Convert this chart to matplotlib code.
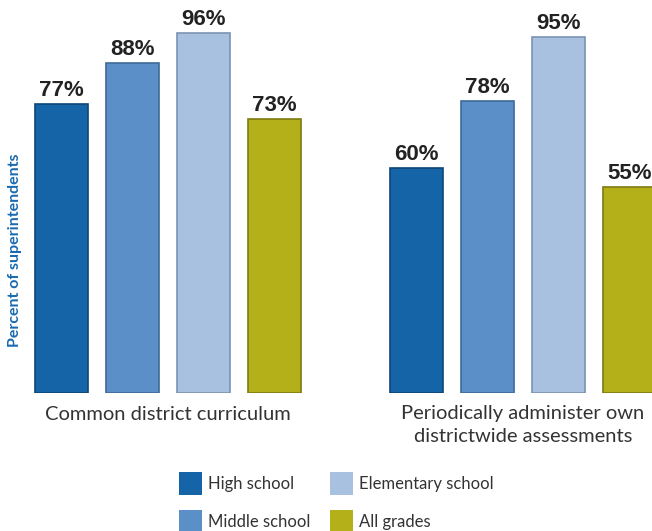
import numpy as np
import matplotlib
matplotlib.use('Agg')
import matplotlib.pyplot as plt
from matplotlib.patches import Rectangle

# data
groups = ['Common district curriculum', 'Periodically administer own\ndistrictwide assessments']
levels = ['High school', 'Middle school', 'Elementary school', 'All grades']
curriculum = [77, 88, 96, 73]
assessments = [60, 78, 95, 55]
colors = ['#1664a8', '#5b8fc7', '#a9c1e1', '#b4b01a']
edges = ['#0d4676', '#3f6a98', '#7d93b3', '#7d7a10']

W, H = 652, 531
fig = plt.figure(figsize=(W / 100, H / 100), dpi=100)

# axes: 0% at row 393, bar pitch 71 px, first bar centre at x=61.5 px
pitch = 71.0
ax = fig.add_axes([0, (H - 393) / H, 1, 393 / H])
ax.set_xlim(-61.5 / pitch, (W - 61.5) / pitch)
ax.set_ylim(0, 393 / 3.75)
ax.axis('off')

for g, vals in enumerate([curriculum, assessments]):
    x = 5 * g + np.arange(len(vals))
    ax.bar(x, vals, width=53 / pitch, color=colors, edgecolor=edges, linewidth=1.2)
    for xi, v in zip(x, vals):
        ax.annotate(f'{v}%', (xi, v), xytext=(0, 2), textcoords='offset points',
                    ha='center', va='bottom', fontsize=16, fontweight='bold',
                    family='Liberation Sans', color='#222222')
    ax.annotate(groups[g], (x.mean(), 0), xytext=(0, -9), textcoords='offset points',
                ha='center', va='top', fontsize=14.5, family='Lato',
                color='#333333', linespacing=1.4, annotation_clip=False)

fig.text(15 / W, 1 - 250 / H, 'Percent of superintendents', rotation=90,
         ha='center', va='center', fontsize=11.5, fontweight='bold',
         family='Lato', color='#1a6ab0')

# legend
sq = 23
pos = [(179, 472), (179, 510), (330, 472), (330, 510)]
for (px, py), c, lab in zip(pos, colors, levels):
    fig.add_artist(Rectangle((px / W, 1 - (py + sq) / H), sq / W, sq / H,
                             transform=fig.transFigure, color=c, lw=0))
    fig.text((px + 29) / W, 1 - (py + 12) / H, lab, ha='left', va='center',
             fontsize=12, family='Lato', color='#333333')

fig.savefig('out.png', dpi=100)
